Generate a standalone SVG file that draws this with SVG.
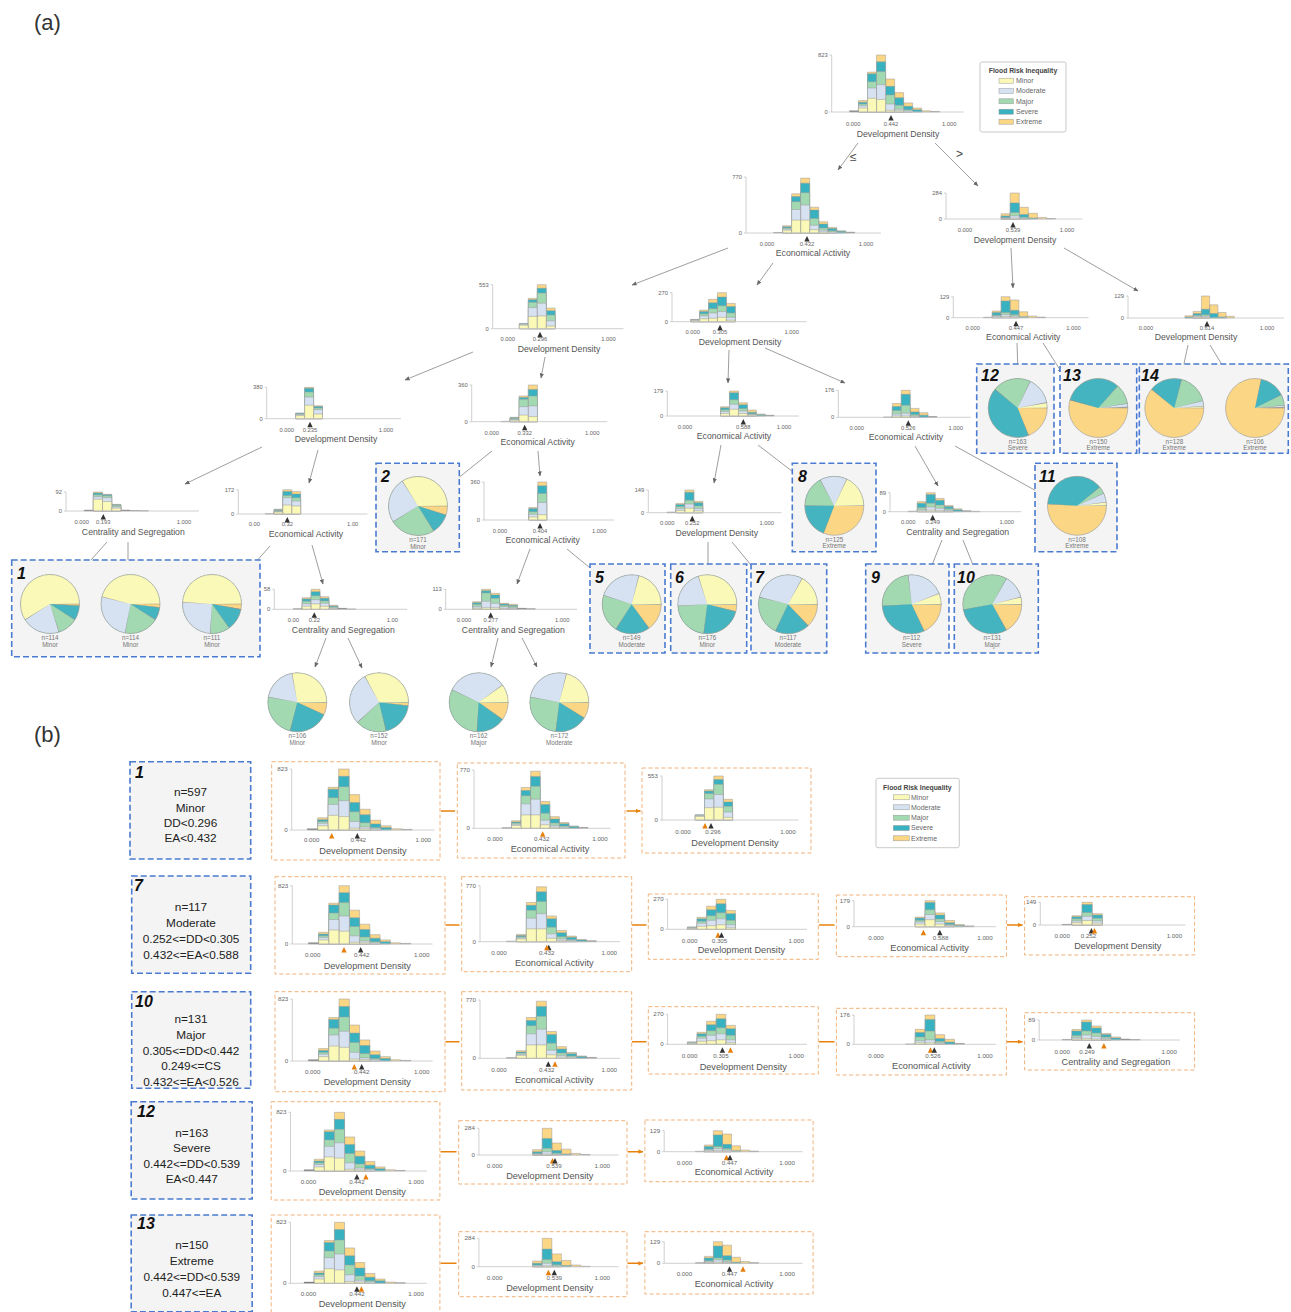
<svg xmlns="http://www.w3.org/2000/svg" width="1291" height="1312" viewBox="0 0 1291 1312">
<style>
text{font-family:"Liberation Sans",Arial,sans-serif;fill:#555}
.tk{font-size:5.8px;text-anchor:middle;fill:#666}
.vl{font-size:5.8px;text-anchor:end;fill:#666}
.tt{font-size:8.7px;text-anchor:middle}
.tk2{font-size:6.2px;text-anchor:middle;fill:#666}
.vl2{font-size:6.2px;text-anchor:end;fill:#666}
.tt2{font-size:9.2px;text-anchor:middle}
.ax{stroke:#c4c4c4;stroke-width:.8;fill:none}
.b{stroke:#9a9a9a;stroke-width:.5px;vector-effect:non-scaling-stroke}
.y{fill:#fbf9b7}.m{fill:#d6e1f1}.g{fill:#a3d9b1}.t{fill:#38b2c1}.o{fill:#fbd685}.k{fill:#5a5a5a}
.s{fill:none;stroke-width:29.5}
.sy{stroke:#fbf9b7}.sm{stroke:#d6e1f1}.sg{stroke:#a3d9b1}.st{stroke:#44b4c1}
.sep{stroke:#8c8c8c}
.rim{fill:none;stroke:#999;stroke-width:.6}
.pl{font-size:6.3px;text-anchor:middle;fill:#777}
.bx{fill:#f4f4f4;stroke:#4a7bd0;stroke-width:1.6;stroke-dasharray:6 3}
.pn{fill:#fff;stroke:#f2b27a;stroke-width:1;stroke-dasharray:4 2.5}
.num{font-weight:bold;font-style:italic;font-size:16px;fill:#111}
.ct{font-size:11.8px;text-anchor:middle;fill:#222}
.mk{fill:#333}.mo{fill:#e67e0c}
.con{stroke:#858585;stroke-width:.8;fill:none;marker-end:url(#ah)}
.oa{stroke:#e8820c;stroke-width:1.4;fill:none;marker-end:url(#oh)}
.lg{fill:#fff;stroke:#bbb;stroke-width:.8}
.lt{font-size:6.8px;font-weight:bold;fill:#444;text-anchor:middle}
.ll{font-size:7px;fill:#666}
.sw{stroke:#999;stroke-width:.5}
</style>
<defs>
<marker id="ah" viewBox="0 0 6 6" refX="5.5" refY="3" markerWidth="5" markerHeight="5" orient="auto" markerUnits="userSpaceOnUse"><path d="M0 .5L6 3L0 5.5z" fill="#666"/></marker>
<marker id="oh" viewBox="0 0 6 6" refX="5.5" refY="3" markerWidth="5" markerHeight="5" orient="auto" markerUnits="userSpaceOnUse"><path d="M0 .5L6 3L0 5.5z" fill="#e8820c"/></marker>
<path id="tri" d="M0 0L2.7 5.5H-2.7Z"/>
<symbol id="pDD823" viewBox="-10 0 120 100" preserveAspectRatio="none" overflow="visible">
<path class="b o" d="M5.4 100V80h9.4V100zM14.8 100V30h9.4V100zM24.2 100V0h9.4V100zM33.6 100V42h9.4V100zM43 100V66h9.4V100zM52.4 100V84h9.4V100zM61.8 100V93h9.4V100zM71.2 100V98h9.4V100z"/>
<path class="b t" d="M5.4 100V83h9.4V100zM14.8 100V33h9.4V100zM24.2 100V12h9.4V100zM33.6 100V55h9.4V100zM43 100V75h9.4V100zM52.4 100V90h9.4V100zM61.8 100V96h9.4V100z"/>
<path class="b g" d="M5.4 100V86h9.4V100zM14.8 100V47h9.4V100zM24.2 100V29h9.4V100zM33.6 100V70h9.4V100zM43 100V88h9.4V100zM52.4 100V96h9.4V100z"/>
<path class="b m" d="M5.4 100V89h9.4V100zM14.8 100V58h9.4V100zM24.2 100V52h9.4V100zM33.6 100V86h9.4V100zM43 100V95h9.4V100zM52.4 100V98h9.4V100z"/>
<path class="b y" d="M5.4 100V93h9.4V100zM14.8 100V76h9.4V100zM24.2 100V78h9.4V100zM33.6 100V97h9.4V100zM43 100V98h9.4V100z"/>
<path class="b k" d="M-4 100V98h9.4V100zM80.6 100V99h9.4V100z"/>
</symbol>
<symbol id="pEA770" viewBox="-10 0 120 100" preserveAspectRatio="none" overflow="visible">
<path class="b o" d="M15.8 100V87h9.1V100zM24.9 100V30h9.1V100zM34 100V2h9.1V100zM43.1 100V54h9.1V100zM52.2 100V80h9.1V100zM61.3 100V90h9.1V100zM70.4 100V96h9.1V100z"/>
<path class="b t" d="M15.8 100V89h9.1V100zM24.9 100V35h9.1V100zM34 100V11h9.1V100zM43.1 100V59h9.1V100zM52.2 100V84h9.1V100zM61.3 100V92h9.1V100zM70.4 100V97h9.1V100z"/>
<path class="b g" d="M15.8 100V91h9.1V100zM24.9 100V44h9.1V100zM34 100V28h9.1V100zM43.1 100V74h9.1V100zM52.2 100V91h9.1V100zM61.3 100V96h9.1V100z"/>
<path class="b m" d="M15.8 100V93h9.1V100zM24.9 100V58h9.1V100zM34 100V50h9.1V100zM43.1 100V86h9.1V100zM52.2 100V95h9.1V100zM61.3 100V98h9.1V100z"/>
<path class="b y" d="M15.8 100V95h9.1V100zM24.9 100V77h9.1V100zM34 100V77h9.1V100zM43.1 100V94h9.1V100zM52.2 100V98h9.1V100z"/>
<path class="b k" d="M6.7 100V99h9.1V100zM79.5 100V98.5h9.1V100z"/>
</symbol>
<symbol id="pDD284" viewBox="-10 0 120 100" preserveAspectRatio="none" overflow="visible">
<path class="b o" d="M35.4 100V80h8.9V100zM44.3 100V0h8.9V100zM53.2 100V55h8.9V100zM62.1 100V78h8.9V100zM71 100V94h8.9V100z"/>
<path class="b t" d="M35.4 100V88h8.9V100zM44.3 100V38h8.9V100zM53.2 100V83h8.9V100zM62.1 100V96h8.9V100z"/>
<path class="b g" d="M35.4 100V94h8.9V100zM44.3 100V75h8.9V100zM53.2 100V93h8.9V100z"/>
<path class="b m" d="M35.4 100V97h8.9V100zM44.3 100V88h8.9V100zM53.2 100V98h8.9V100z"/>
<path class="b y" d="M35.4 100V99h8.9V100zM44.3 100V97h8.9V100z"/>
<path class="b k" d="M79.9 100V98.5h8.9V100z"/>
</symbol>
<symbol id="pDD553" viewBox="-10 0 120 100" preserveAspectRatio="none" overflow="visible">
<path class="b o" d="M20.5 100V31h8.9V100zM29.4 100V0h8.9V100zM38.3 100V53h8.9V100z"/>
<path class="b t" d="M11.6 100V88h8.9V100zM20.5 100V34h8.9V100zM29.4 100V8h8.9V100zM38.3 100V59h8.9V100z"/>
<path class="b g" d="M11.6 100V89h8.9V100zM20.5 100V40h8.9V100zM29.4 100V19h8.9V100zM38.3 100V69h8.9V100z"/>
<path class="b m" d="M11.6 100V90h8.9V100zM20.5 100V52h8.9V100zM29.4 100V42h8.9V100zM38.3 100V82h8.9V100z"/>
<path class="b y" d="M11.6 100V92h8.9V100zM20.5 100V72h8.9V100zM29.4 100V71h8.9V100zM38.3 100V94h8.9V100z"/>
</symbol>
<symbol id="pDD270" viewBox="-10 0 120 100" preserveAspectRatio="none" overflow="visible">
<path class="b o" d="M-2 100V92h9V100zM7 100V60h9V100zM16 100V23h9V100zM25 100V0h9V100zM34 100V37h9V100z"/>
<path class="b t" d="M-2 100V93h9V100zM7 100V65h9V100zM16 100V35h9V100zM25 100V15h9V100zM34 100V48h9V100z"/>
<path class="b g" d="M-2 100V94h9V100zM7 100V73h9V100zM16 100V55h9V100zM25 100V45h9V100zM34 100V70h9V100z"/>
<path class="b m" d="M-2 100V95h9V100zM7 100V80h9V100zM16 100V70h9V100zM25 100V65h9V100zM34 100V85h9V100z"/>
<path class="b y" d="M-2 100V97h9V100zM7 100V90h9V100zM16 100V88h9V100zM25 100V85h9V100zM34 100V95h9V100z"/>
</symbol>
<symbol id="pDD380" viewBox="-10 0 120 100" preserveAspectRatio="none" overflow="visible">
<path class="b o" d="M9 100V82h9V100zM18 100V0h9V100zM27 100V59h9V100z"/>
<path class="b t" d="M9 100V83h9V100zM18 100V3h9V100zM27 100V61h9V100z"/>
<path class="b g" d="M9 100V85h9V100zM18 100V15h9V100zM27 100V66h9V100z"/>
<path class="b m" d="M9 100V87h9V100zM18 100V31h9V100zM27 100V71h9V100z"/>
<path class="b y" d="M9 100V90h9V100zM18 100V57h9V100zM27 100V85h9V100z"/>
</symbol>
<symbol id="pEA360a" viewBox="-10 0 120 100" preserveAspectRatio="none" overflow="visible">
<path class="b o" d="M18.2 100V88h9.1V100zM27.3 100V30h9.1V100zM36.4 100V0h9.1V100z"/>
<path class="b t" d="M18.2 100V89h9.1V100zM27.3 100V34h9.1V100zM36.4 100V12h9.1V100z"/>
<path class="b g" d="M18.2 100V91h9.1V100zM27.3 100V39h9.1V100zM36.4 100V30h9.1V100z"/>
<path class="b m" d="M18.2 100V94h9.1V100zM27.3 100V59h9.1V100zM36.4 100V57h9.1V100z"/>
<path class="b y" d="M18.2 100V96h9.1V100zM27.3 100V82h9.1V100zM36.4 100V86h9.1V100z"/>
<path class="b k" d="M9.1 100V99h9.1V100z"/>
</symbol>
<symbol id="pEA360b" viewBox="-10 0 120 100" preserveAspectRatio="none" overflow="visible">
<path class="b o" d="M29 100V67h9V100zM38 100V0h9V100z"/>
<path class="b t" d="M29 100V70h9V100zM38 100V10h9V100z"/>
<path class="b g" d="M29 100V78h9V100zM38 100V30h9V100z"/>
<path class="b m" d="M29 100V85h9V100zM38 100V54h9V100z"/>
<path class="b y" d="M29 100V92h9V100zM38 100V86h9V100z"/>
</symbol>
<symbol id="pEA179" viewBox="-10 0 120 100" preserveAspectRatio="none" overflow="visible">
<path class="b o" d="M36 100V63h9V100zM45 100V0h9V100zM54 100V47h9V100zM63 100V76h9V100zM72 100V92h9V100z"/>
<path class="b t" d="M36 100V67h9V100zM45 100V7h9V100zM54 100V55h9V100zM63 100V85h9V100zM72 100V95h9V100z"/>
<path class="b g" d="M36 100V75h9V100zM45 100V35h9V100zM54 100V70h9V100zM63 100V91h9V100z"/>
<path class="b m" d="M36 100V82h9V100zM45 100V53h9V100zM54 100V80h9V100zM63 100V94h9V100z"/>
<path class="b y" d="M36 100V90h9V100zM45 100V73h9V100zM54 100V90h9V100zM63 100V97h9V100z"/>
<path class="b k" d="M81 100V97h9V100z"/>
</symbol>
<symbol id="pEA176" viewBox="-10 0 120 100" preserveAspectRatio="none" overflow="visible">
<path class="b o" d="M36 100V49h9V100zM45 100V0h9V100zM54 100V67h9V100zM63 100V83h9V100z"/>
<path class="b t" d="M36 100V60h9V100zM45 100V15h9V100zM54 100V80h9V100zM63 100V92h9V100z"/>
<path class="b g" d="M36 100V75h9V100zM45 100V55h9V100zM54 100V90h9V100z"/>
<path class="b m" d="M36 100V88h9V100zM45 100V85h9V100zM54 100V95h9V100z"/>
<path class="b y" d="M36 100V95h9V100zM45 100V95h9V100zM54 100V98h9V100z"/>
<path class="b k" d="M27 100V99h9V100zM72 100V97h9V100z"/>
</symbol>
<symbol id="pCS92" viewBox="-10 0 120 100" preserveAspectRatio="none" overflow="visible">
<path class="b o" d="M11.4 100V0h9V100zM20.4 100V12h9V100zM29.4 100V65h9V100z"/>
<path class="b t" d="M11.4 100V5h9V100zM20.4 100V14h9V100zM29.4 100V67h9V100z"/>
<path class="b g" d="M11.4 100V15h9V100zM20.4 100V20h9V100zM29.4 100V70h9V100z"/>
<path class="b m" d="M11.4 100V25h9V100zM20.4 100V30h9V100zM29.4 100V78h9V100z"/>
<path class="b y" d="M11.4 100V38h9V100zM20.4 100V50h9V100zM29.4 100V85h9V100z"/>
<path class="b k" d="M2.4 100V95h9V100zM38.4 100V95h9V100zM47.4 100V97h9V100zM56.4 100V98.5h9V100z"/>
</symbol>
<symbol id="pEA172" viewBox="-10 0 120 100" preserveAspectRatio="none" overflow="visible">
<path class="b o" d="M20 100V80h9V100zM29 100V0h9V100zM38 100V7h9V100z"/>
<path class="b t" d="M20 100V82h9V100zM29 100V7h9V100zM38 100V18h9V100z"/>
<path class="b g" d="M20 100V86h9V100zM29 100V24h9V100zM38 100V33h9V100z"/>
<path class="b m" d="M20 100V90h9V100zM29 100V33h9V100zM38 100V47h9V100z"/>
<path class="b y" d="M20 100V92h9V100zM29 100V63h9V100zM38 100V67h9V100z"/>
<path class="b k" d="M11 100V99h9V100z"/>
</symbol>
<symbol id="pCS58" viewBox="-10 0 120 100" preserveAspectRatio="none" overflow="visible">
<path class="b o" d="M9 100V42h9V100zM18 100V0h9V100zM27 100V37h9V100zM36 100V80h9V100z"/>
<path class="b t" d="M9 100V48h9V100zM18 100V12h9V100zM27 100V45h9V100zM36 100V83h9V100z"/>
<path class="b g" d="M9 100V60h9V100zM18 100V32h9V100zM27 100V58h9V100zM36 100V87h9V100z"/>
<path class="b m" d="M9 100V72h9V100zM18 100V52h9V100zM27 100V70h9V100zM36 100V92h9V100z"/>
<path class="b y" d="M9 100V85h9V100zM18 100V73h9V100zM27 100V85h9V100zM36 100V97h9V100z"/>
<path class="b k" d="M0 100V97h9V100zM45 100V95h9V100zM54 100V98h9V100z"/>
</symbol>
<symbol id="pCS113" viewBox="-10 0 120 100" preserveAspectRatio="none" overflow="visible">
<path class="b o" d="M8.8 100V62h9.1V100zM17.9 100V0h9.1V100zM27 100V20h9.1V100zM36.1 100V70h9.1V100zM45.2 100V75h9.1V100z"/>
<path class="b t" d="M8.8 100V67h9.1V100zM17.9 100V7h9.1V100zM27 100V28h9.1V100zM36.1 100V73h9.1V100zM45.2 100V80h9.1V100z"/>
<path class="b g" d="M8.8 100V75h9.1V100zM17.9 100V18h9.1V100zM27 100V45h9.1V100zM36.1 100V80h9.1V100zM45.2 100V85h9.1V100z"/>
<path class="b m" d="M8.8 100V87h9.1V100zM17.9 100V60h9.1V100zM27 100V70h9.1V100zM36.1 100V88h9.1V100zM45.2 100V92h9.1V100z"/>
<path class="b y" d="M8.8 100V95h9.1V100zM17.9 100V92h9.1V100zM27 100V92h9.1V100zM36.1 100V97h9.1V100zM45.2 100V98h9.1V100z"/>
<path class="b k" d="M54.3 100V95h9.1V100zM63.4 100V97h9.1V100z"/>
</symbol>
<symbol id="pDD149" viewBox="-10 0 120 100" preserveAspectRatio="none" overflow="visible">
<path class="b o" d="M8.7 100V59h9V100zM17.7 100V0h9V100zM26.7 100V50h9V100z"/>
<path class="b t" d="M8.7 100V64h9V100zM17.7 100V10h9V100zM26.7 100V56h9V100z"/>
<path class="b g" d="M8.7 100V73h9V100zM17.7 100V45h9V100zM26.7 100V70h9V100z"/>
<path class="b m" d="M8.7 100V82h9V100zM17.7 100V62h9V100zM26.7 100V82h9V100z"/>
<path class="b y" d="M8.7 100V90h9V100zM17.7 100V80h9V100zM26.7 100V92h9V100z"/>
<path class="b k" d="M-0.3 100V97h9V100z"/>
</symbol>
<symbol id="pCS89" viewBox="-10 0 120 100" preserveAspectRatio="none" overflow="visible">
<path class="b o" d="M9.1 100V47h9.1V100zM18.2 100V0h9.1V100zM27.3 100V30h9.1V100zM36.4 100V67h9.1V100zM45.5 100V85h9.1V100z"/>
<path class="b t" d="M9.1 100V55h9.1V100zM18.2 100V10h9.1V100zM27.3 100V40h9.1V100zM36.4 100V73h9.1V100zM45.5 100V90h9.1V100z"/>
<path class="b g" d="M9.1 100V78h9.1V100zM18.2 100V55h9.1V100zM27.3 100V65h9.1V100zM36.4 100V85h9.1V100z"/>
<path class="b m" d="M9.1 100V88h9.1V100zM18.2 100V75h9.1V100zM27.3 100V82h9.1V100zM36.4 100V92h9.1V100z"/>
<path class="b y" d="M9.1 100V95h9.1V100zM18.2 100V92h9.1V100zM27.3 100V95h9.1V100zM36.4 100V98h9.1V100z"/>
<path class="b k" d="M0 100V97h9.1V100zM54.6 100V95h9.1V100zM63.7 100V98h9.1V100z"/>
</symbol>
<symbol id="pEA129" viewBox="-10 0 120 100" preserveAspectRatio="none" overflow="visible">
<path class="b o" d="M19.5 100V68h8.8V100zM28.3 100V0h8.8V100zM37.1 100V16h8.8V100zM45.9 100V72h8.8V100zM54.7 100V92h8.8V100z"/>
<path class="b t" d="M19.5 100V75h8.8V100zM28.3 100V20h8.8V100zM37.1 100V65h8.8V100zM45.9 100V95h8.8V100z"/>
<path class="b g" d="M19.5 100V88h8.8V100zM28.3 100V75h8.8V100zM37.1 100V85h8.8V100z"/>
<path class="b m" d="M19.5 100V92h8.8V100zM28.3 100V85h8.8V100zM37.1 100V92h8.8V100z"/>
<path class="b y" d="M19.5 100V97h8.8V100zM28.3 100V95h8.8V100zM37.1 100V97h8.8V100z"/>
<path class="b k" d="M10.7 100V98h8.8V100zM63.5 100V97h8.8V100z"/>
</symbol>
<symbol id="pDD129" viewBox="-10 0 120 100" preserveAspectRatio="none" overflow="visible">
<path class="b o" d="M32.2 100V90h6.8V100zM39 100V70h6.8V100zM45.8 100V0h6.8V100zM52.6 100V40h6.8V100zM59.4 100V75h6.8V100zM66.2 100V92h6.8V100z"/>
<path class="b t" d="M32.2 100V95h6.8V100zM39 100V80h6.8V100zM45.8 100V60h6.8V100zM52.6 100V80h6.8V100zM59.4 100V95h6.8V100z"/>
<path class="b g" d="M39 100V88h6.8V100zM45.8 100V85h6.8V100z"/>
<path class="b m" d="M39 100V92h6.8V100zM45.8 100V92h6.8V100z"/>
<path class="b y" d="M39 100V97h6.8V100zM45.8 100V97h6.8V100z"/>
</symbol>
</defs>

<rect width="1291" height="1312" fill="#fff"/>
<text x="34" y="30" style="font-size:22px;fill:#333">(a)</text>
<text x="34" y="742" style="font-size:22px;fill:#333">(b)</text>

<g id="legend-a">
<rect class="lg" x="980" y="62" width="86" height="70" rx="2"/>
<text class="lt" x="1023" y="73.3">Flood Risk Inequality</text>
<rect class="sw y" x="999" y="78.2" width="14.3" height="5"/><text class="ll" x="1016" y="83.1">Minor</text>
<rect class="sw m" x="999" y="88.5" width="14.3" height="5"/><text class="ll" x="1016" y="93.4">Moderate</text>
<rect class="sw g" x="999" y="98.8" width="14.3" height="5"/><text class="ll" x="1016" y="103.7">Major</text>
<rect class="sw t" x="999" y="109.2" width="14.3" height="5"/><text class="ll" x="1016" y="114.1">Severe</text>
<rect class="sw o" x="999" y="119.2" width="14.3" height="5"/><text class="ll" x="1016" y="124.1">Extreme</text>
</g>

<g id="connectors">
<path class="con" d="M858 143L838 170"/>
<path class="con" d="M935 143L978 186"/>
<path class="con" d="M728 248L632 285"/>
<path class="con" d="M773 263L757 285"/>
<path class="con" d="M1011 248L1013 288"/>
<path class="con" d="M1064 248L1138 291"/>
<path class="con" d="M473 352L405 380"/>
<path class="con" d="M545 357L541 378"/>
<path class="con" d="M729 350L728 383"/>
<path class="con" d="M765 348L845 383"/>
<path class="con" d="M262 447L185 484"/>
<path class="con" d="M318 450L309 483"/>
<path class="con" d="M492 451L452 483"/>
<path class="con" d="M538 451L540 476"/>
<path class="con" d="M107 542L83 569"/>
<path class="con" d="M128 542L128 569"/>
<path class="con" d="M270 546L247 572"/>
<path class="con" d="M312 545L323 584"/>
<path class="con" d="M530 549L517 584"/>
<path class="con" d="M567 549L595 572"/>
<path class="con" d="M326 638L315 667"/>
<path class="con" d="M348 638L362 668"/>
<path class="con" d="M498 638L491 667"/>
<path class="con" d="M522 638L537 667"/>
<path class="con" d="M721 445L714 483"/>
<path class="con" d="M758 445L797 475"/>
<path class="con" d="M708 542L708 570"/>
<path class="con" d="M732 542L755 570"/>
<path class="con" d="M915 446L938 486"/>
<path class="con" d="M955 446L1040 493"/>
<path class="con" d="M942 540L930 570"/>
<path class="con" d="M963 540L975 570"/>
<path class="con" d="M1017 343L1018 373"/>
<path class="con" d="M1043 343L1062 373"/>
<path class="con" d="M1188 345L1182 373"/>
<path class="con" d="M1210 345L1227 373"/>
<text x="850" y="161" style="font-size:12px;fill:#444">≤</text>
<text x="956" y="158" style="font-size:12px;fill:#444">&gt;</text>
<path class="oa" d="M441 811H455M626.5 811H640.5"/>
<path class="oa" d="M445.5 925H459.5M632 925H646.5M819 925H834.5M1007 925H1022.5"/>
<path class="oa" d="M445.5 1041.7H459.5M632 1041.7H646.5M819 1041.7H834.5M1007 1041.7H1022.5"/>
<path class="oa" d="M440.5 1151.7H456.5M627.5 1151.7H643"/>
<path class="oa" d="M440.5 1263.3H456.5M627.5 1263.3H643"/>
</g>

<g id="n0">
<use href="#pDD823" x="843.7" y="55" width="115.2" height="57"/>
<path class="ax" d="M831.7 55V112H963.7M829.7 55h2M829.7 112h2"/>
<text class="vl" x="827.7" y="57">823</text><text class="vl" x="827.7" y="114">0</text>
<text class="tk" y="126"><tspan x="853.3">0.000</tspan><tspan x="891">0.442</tspan><tspan x="949.3">1.000</tspan></text>
<use href="#tri" class="mk" x="891" y="115"/>
<text class="tt" x="898" y="137">Development Density</text>
</g>
<g id="n1">
<use href="#pEA770" x="757.1" y="177" width="118.8" height="56"/>
<path class="ax" d="M746 177V233H880.9M744 177h2M744 233h2"/>
<text class="vl" x="742" y="179">770</text><text class="vl" x="742" y="235">0</text>
<text class="tk" y="245.5"><tspan x="767">0.000</tspan><tspan x="807">0.432</tspan><tspan x="866">1.000</tspan></text>
<use href="#tri" class="mk" x="807" y="236"/>
<text class="tt" x="813" y="256">Economical Activity</text>
</g>
<g id="n2">
<use href="#pDD284" x="954.8" y="193" width="122.4" height="26"/>
<path class="ax" d="M946 193V219H1082.3M944 193h2M944 219h2"/>
<text class="vl" x="942" y="195">284</text><text class="vl" x="942" y="221">0</text>
<text class="tk" y="232"><tspan x="965">0.000</tspan><tspan x="1013">0.539</tspan><tspan x="1067">1.000</tspan></text>
<use href="#tri" class="mk" x="1013" y="222"/>
<text class="tt" x="1015" y="243">Development Density</text>
</g>
<g id="n3">
<use href="#pDD553" x="497.6" y="284.7" width="120.8" height="44"/>
<path class="ax" d="M492.7 284.7V328.7H623.5M490.7 284.7h2M490.7 328.7h2"/>
<text class="vl" x="488.7" y="286.7">553</text><text class="vl" x="488.7" y="330.7">0</text>
<text class="tk" y="341"><tspan x="507.7">0.000</tspan><tspan x="540">0.296</tspan><tspan x="608.4">1.000</tspan></text>
<use href="#tri" class="mk" x="540" y="331.7"/>
<text class="tt" x="559" y="352">Development Density</text>
</g>
<g id="n4">
<use href="#pDD270" x="682.8" y="292.7" width="118.8" height="29"/>
<path class="ax" d="M672 292.7V321.7H806.6M670 292.7h2M670 321.7h2"/>
<text class="vl" x="668" y="294.7">270</text><text class="vl" x="668" y="323.7">0</text>
<text class="tk" y="334"><tspan x="692.7">0.000</tspan><tspan x="720">0.305</tspan><tspan x="791.7">1.000</tspan></text>
<use href="#tri" class="mk" x="720" y="324.7"/>
<text class="tt" x="740" y="344.7">Development Density</text>
</g>
<g id="n5">
<use href="#pEA129" x="962.6" y="296.7" width="120.8" height="21"/>
<path class="ax" d="M953.3 296.7V317.7H1088.5M951.3 296.7h2M951.3 317.7h2"/>
<text class="vl" x="949.3" y="298.7">129</text><text class="vl" x="949.3" y="319.7">0</text>
<text class="tk" y="330.3"><tspan x="972.7">0.000</tspan><tspan x="1016">0.447</tspan><tspan x="1073.4">1.000</tspan></text>
<use href="#tri" class="mk" x="1016" y="320.7"/>
<text class="tt" x="1023.3" y="339.7">Economical Activity</text>
</g>
<g id="n6">
<use href="#pDD129" x="1133.9" y="296" width="145.2" height="22"/>
<path class="ax" d="M1128 296V318H1284M1126 296h2M1126 318h2"/>
<text class="vl" x="1124" y="298">129</text><text class="vl" x="1124" y="320">0</text>
<text class="tk" y="329.5"><tspan x="1146">0.000</tspan><tspan x="1207">0.614</tspan><tspan x="1267">1.000</tspan></text>
<use href="#tri" class="mk" x="1207" y="321"/>
<text class="tt" x="1196" y="340">Development Density</text>
</g>
<g id="n7">
<use href="#pDD380" x="276.8" y="387.3" width="119.2" height="31.4"/>
<path class="ax" d="M266.7 387.3V418.7H400.9M264.7 387.3h2M264.7 418.7h2"/>
<text class="vl" x="262.7" y="389.3">380</text><text class="vl" x="262.7" y="420.7">0</text>
<text class="tk" y="431.7"><tspan x="286.7">0.000</tspan><tspan x="310">0.235</tspan><tspan x="386">1.000</tspan></text>
<use href="#tri" class="mk" x="310" y="421.7"/>
<text class="tt" x="336" y="442">Development Density</text>
</g>
<g id="n8">
<use href="#pEA360a" x="481.6" y="385" width="120.7" height="36.7"/>
<path class="ax" d="M471.7 385V421.7H607.4M469.7 385h2M469.7 421.7h2"/>
<text class="vl" x="467.7" y="387">360</text><text class="vl" x="467.7" y="423.7">0</text>
<text class="tk" y="435"><tspan x="491.7">0.000</tspan><tspan x="524.7">0.332</tspan><tspan x="592.3">1.000</tspan></text>
<use href="#tri" class="mk" x="524.7" y="424.7"/>
<text class="tt" x="537.7" y="445">Economical Activity</text>
</g>
<g id="n9">
<use href="#pEA179" x="675.1" y="391" width="118.8" height="25"/>
<path class="ax" d="M667.3 391V416H798.9M665.3 391h2M665.3 416h2"/>
<text class="vl" x="663.3" y="393">179</text><text class="vl" x="663.3" y="418">0</text>
<text class="tk" y="428.7"><tspan x="685">0.000</tspan><tspan x="743.3">0.588</tspan><tspan x="784">1.000</tspan></text>
<use href="#tri" class="mk" x="743.3" y="419"/>
<text class="tt" x="734" y="439">Economical Activity</text>
</g>
<g id="n10">
<use href="#pEA176" x="846.8" y="390.3" width="118.8" height="27"/>
<path class="ax" d="M838.3 390.3V417.3H970.6M836.3 390.3h2M836.3 417.3h2"/>
<text class="vl" x="834.3" y="392.3">176</text><text class="vl" x="834.3" y="419.3">0</text>
<text class="tk" y="429.7"><tspan x="856.7">0.000</tspan><tspan x="908.3">0.526</tspan><tspan x="955.7">1.000</tspan></text>
<use href="#tri" class="mk" x="908.3" y="420.3"/>
<text class="tt" x="906" y="440.3">Economical Activity</text>
</g>
<g id="n11">
<use href="#pCS92" x="71.5" y="492" width="122.4" height="19"/>
<path class="ax" d="M66 492V511H199M64 492h2M64 511h2"/>
<text class="vl" x="62" y="494">92</text><text class="vl" x="62" y="513">0</text>
<text class="tk" y="523.7"><tspan x="81.7">0.000</tspan><tspan x="103.3">0.193</tspan><tspan x="184">1.000</tspan></text>
<use href="#tri" class="mk" x="103.3" y="514"/>
<text class="tt" x="133.3" y="534.7">Centrality and Segregation</text>
</g>
<g id="n12">
<use href="#pEA172" x="244.5" y="489.7" width="118.1" height="24.3"/>
<path class="ax" d="M238.3 489.7V514H367.5M236.3 489.7h2M236.3 514h2"/>
<text class="vl" x="234.3" y="491.7">172</text><text class="vl" x="234.3" y="516">0</text>
<text class="tk" y="525.7"><tspan x="254.3">0.00</tspan><tspan x="287.3">0.32</tspan><tspan x="352.7">1.00</tspan></text>
<use href="#tri" class="mk" x="287.3" y="517"/>
<text class="tt" x="306" y="537">Economical Activity</text>
</g>
<g id="n13">
<use href="#pEA360b" x="490.1" y="482" width="119.2" height="38"/>
<path class="ax" d="M484 482V520H614.2M482 482h2M482 520h2"/>
<text class="vl" x="480" y="484">360</text><text class="vl" x="480" y="522">0</text>
<text class="tk" y="532.7"><tspan x="500">0.000</tspan><tspan x="540">0.404</tspan><tspan x="599.3">1.000</tspan></text>
<use href="#tri" class="mk" x="540" y="523"/>
<text class="tt" x="542.7" y="543">Economical Activity</text>
</g>
<g id="n14">
<use href="#pDD149" x="657.4" y="490" width="119.2" height="22.7"/>
<path class="ax" d="M648.3 490V512.7H781.5M646.3 490h2M646.3 512.7h2"/>
<text class="vl" x="644.3" y="492">149</text><text class="vl" x="644.3" y="514.7">0</text>
<text class="tk" y="525.3"><tspan x="667.3">0.000</tspan><tspan x="692.3">0.252</tspan><tspan x="766.7">1.000</tspan></text>
<use href="#tri" class="mk" x="692.3" y="515.7"/>
<text class="tt" x="716.7" y="535.7">Development Density</text>
</g>
<g id="n15">
<use href="#pCS89" x="898.5" y="492.7" width="118" height="19"/>
<path class="ax" d="M890 492.7V511.7H1021.3M888 492.7h2M888 511.7h2"/>
<text class="vl" x="886" y="494.7">89</text><text class="vl" x="886" y="513.7">0</text>
<text class="tk" y="524.3"><tspan x="908.3">0.000</tspan><tspan x="932.7">0.249</tspan><tspan x="1006.7">1.000</tspan></text>
<use href="#tri" class="mk" x="932.7" y="514.7"/>
<text class="tt" x="957.7" y="534.7">Centrality and Segregation</text>
</g>
<g id="n16">
<use href="#pCS58" x="283.4" y="589.3" width="118.8" height="20"/>
<path class="ax" d="M274.3 589.3V609.3H407.2M272.3 589.3h2M272.3 609.3h2"/>
<text class="vl" x="270.3" y="591.3">58</text><text class="vl" x="270.3" y="611.3">0</text>
<text class="tk" y="622"><tspan x="293.3">0.00</tspan><tspan x="314.3">0.22</tspan><tspan x="392.3">1.00</tspan></text>
<use href="#tri" class="mk" x="314.3" y="612.3"/>
<text class="tt" x="343.3" y="633">Centrality and Segregation</text>
</g>
<g id="n17">
<use href="#pCS113" x="454.2" y="589.3" width="118" height="20"/>
<path class="ax" d="M445.7 589.3V609.3H577M443.7 589.3h2M443.7 609.3h2"/>
<text class="vl" x="441.7" y="591.3">113</text><text class="vl" x="441.7" y="611.3">0</text>
<text class="tk" y="622"><tspan x="464">0.000</tspan><tspan x="490.7">0.277</tspan><tspan x="562.3">1.000</tspan></text>
<use href="#tri" class="mk" x="490.7" y="612.3"/>
<text class="tt" x="513.3" y="633">Centrality and Segregation</text>
</g>

<g id="box1">
<rect class="bx" x="11.7" y="560" width="248.3" height="96.7"/>
<text class="num" x="17" y="579">1</text>
<g transform="translate(50 604) scale(1 -1)"><circle r="29.5" class="o"/><circle r="14.75" class="s st" pathLength="100" stroke-dasharray="99 100"/><circle r="14.75" class="s sg" pathLength="100" stroke-dasharray="91 100"/><circle r="14.75" class="s sm" pathLength="100" stroke-dasharray="80 100"/><circle r="14.75" class="s sy" pathLength="100" stroke-dasharray="59 100"/><circle r="14.75" class="s sep" pathLength="100" stroke-dasharray="0.3 58.7 0.3 20.7 0.3 10.7 0.3 7.7 0.3 0.7" stroke-dashoffset="0.15"/><circle r="29.5" class="rim"/></g>
<text class="pl" x="50" y="640">n=114</text><text class="pl" x="50" y="646.5">Minor</text>
<g transform="translate(130.5 604) scale(1 -1)"><circle r="29.5" class="o"/><circle r="14.75" class="s st" pathLength="100" stroke-dasharray="98 100"/><circle r="14.75" class="s sg" pathLength="100" stroke-dasharray="91 100"/><circle r="14.75" class="s sm" pathLength="100" stroke-dasharray="72 100"/><circle r="14.75" class="s sy" pathLength="100" stroke-dasharray="46 100"/><circle r="14.75" class="s sep" pathLength="100" stroke-dasharray="0.3 45.7 0.3 25.7 0.3 18.7 0.3 6.7 0.3 1.7" stroke-dashoffset="0.15"/><circle r="29.5" class="rim"/></g>
<text class="pl" x="130.5" y="640">n=114</text><text class="pl" x="130.5" y="646.5">Minor</text>
<g transform="translate(212 604) scale(1 -1)"><circle r="29.5" class="o"/><circle r="14.75" class="s st" pathLength="100" stroke-dasharray="97 100"/><circle r="14.75" class="s sg" pathLength="100" stroke-dasharray="85 100"/><circle r="14.75" class="s sm" pathLength="100" stroke-dasharray="74 100"/><circle r="14.75" class="s sy" pathLength="100" stroke-dasharray="49 100"/><circle r="14.75" class="s sep" pathLength="100" stroke-dasharray="0.3 48.7 0.3 24.7 0.3 10.7 0.3 11.7 0.3 2.7" stroke-dashoffset="0.15"/><circle r="29.5" class="rim"/></g>
<text class="pl" x="212" y="640">n=111</text><text class="pl" x="212" y="646.5">Minor</text>
</g>

<g id="box2">
<rect class="bx" x="376" y="463.3" width="83.3" height="88.4"/>
<text class="num" x="381" y="481.5">2</text>
<g transform="translate(418 506) scale(1 -1)"><circle r="29.5" class="o"/><circle r="14.75" class="s st" pathLength="100" stroke-dasharray="95 100"/><circle r="14.75" class="s sg" pathLength="100" stroke-dasharray="84 100"/><circle r="14.75" class="s sm" pathLength="100" stroke-dasharray="59 100"/><circle r="14.75" class="s sy" pathLength="100" stroke-dasharray="34 100"/><circle r="14.75" class="s sep" pathLength="100" stroke-dasharray="0.3 33.7 0.3 24.7 0.3 24.7 0.3 10.7 0.3 4.7" stroke-dashoffset="0.15"/><circle r="29.5" class="rim"/></g>
<text class="pl" x="418" y="542">n=171</text><text class="pl" x="418" y="548.5">Minor</text>
</g>

<g id="box5">
<rect class="bx" x="590" y="564" width="75" height="89"/>
<text class="num" x="595" y="582.5">5</text>
<g transform="translate(631.7 604.3) scale(1 -1)"><circle r="29.5" class="o"/><circle r="14.75" class="s st" pathLength="100" stroke-dasharray="85 100"/><circle r="14.75" class="s sg" pathLength="100" stroke-dasharray="66 100"/><circle r="14.75" class="s sm" pathLength="100" stroke-dasharray="45 100"/><circle r="14.75" class="s sy" pathLength="100" stroke-dasharray="21 100"/><circle r="14.75" class="s sep" pathLength="100" stroke-dasharray="0.3 20.7 0.3 23.7 0.3 20.7 0.3 18.7 0.3 14.7" stroke-dashoffset="0.15"/><circle r="29.5" class="rim"/></g>
<text class="pl" x="631.7" y="640.3">n=149</text><text class="pl" x="631.7" y="646.8">Moderate</text>
</g>
<g id="box6">
<rect class="bx" x="670.7" y="564" width="76" height="89"/>
<text class="num" x="675" y="582.5">6</text>
<g transform="translate(707.3 604.3) scale(1 -1)"><circle r="29.5" class="o"/><circle r="14.75" class="s st" pathLength="100" stroke-dasharray="96 100"/><circle r="14.75" class="s sg" pathLength="100" stroke-dasharray="73 100"/><circle r="14.75" class="s sm" pathLength="100" stroke-dasharray="51 100"/><circle r="14.75" class="s sy" pathLength="100" stroke-dasharray="30 100"/><circle r="14.75" class="s sep" pathLength="100" stroke-dasharray="0.3 29.7 0.3 20.7 0.3 21.7 0.3 22.7 0.3 3.7" stroke-dashoffset="0.15"/><circle r="29.5" class="rim"/></g>
<text class="pl" x="707.3" y="640.3">n=176</text><text class="pl" x="707.3" y="646.8">Minor</text>
</g>
<g id="box7">
<rect class="bx" x="751" y="564" width="75.7" height="89"/>
<text class="num" x="755" y="582.5">7</text>
<g transform="translate(788 604.3) scale(1 -1)"><circle r="29.5" class="o"/><circle r="14.75" class="s st" pathLength="100" stroke-dasharray="87 100"/><circle r="14.75" class="s sg" pathLength="100" stroke-dasharray="68 100"/><circle r="14.75" class="s sm" pathLength="100" stroke-dasharray="46 100"/><circle r="14.75" class="s sy" pathLength="100" stroke-dasharray="17 100"/><circle r="14.75" class="s sep" pathLength="100" stroke-dasharray="0.3 16.7 0.3 28.7 0.3 21.7 0.3 18.7 0.3 12.7" stroke-dashoffset="0.15"/><circle r="29.5" class="rim"/></g>
<text class="pl" x="788" y="640.3">n=117</text><text class="pl" x="788" y="646.8">Moderate</text>
</g>
<g id="box8">
<rect class="bx" x="792.3" y="463.3" width="83.7" height="88.4"/>
<text class="num" x="798" y="481.5">8</text>
<g transform="translate(834.3 505.8) scale(1 -1)"><circle r="29.5" class="o"/><circle r="14.75" class="s st" pathLength="100" stroke-dasharray="69 100"/><circle r="14.75" class="s sg" pathLength="100" stroke-dasharray="50 100"/><circle r="14.75" class="s sm" pathLength="100" stroke-dasharray="33 100"/><circle r="14.75" class="s sy" pathLength="100" stroke-dasharray="18 100"/><circle r="14.75" class="s sep" pathLength="100" stroke-dasharray="0.3 17.7 0.3 14.7 0.3 16.7 0.3 18.7 0.3 30.7" stroke-dashoffset="0.15"/><circle r="29.5" class="rim"/></g>
<text class="pl" x="834.3" y="541.8">n=125</text><text class="pl" x="834.3" y="548.3">Extreme</text>
</g>
<g id="box9">
<rect class="bx" x="865.7" y="564" width="83.3" height="89"/>
<text class="num" x="871" y="582.5">9</text>
<g transform="translate(911.7 604.3) scale(1 -1)"><circle r="29.5" class="o"/><circle r="14.75" class="s st" pathLength="100" stroke-dasharray="82 100"/><circle r="14.75" class="s sg" pathLength="100" stroke-dasharray="51 100"/><circle r="14.75" class="s sm" pathLength="100" stroke-dasharray="27 100"/><circle r="14.75" class="s sy" pathLength="100" stroke-dasharray="6 100"/><circle r="14.75" class="s sep" pathLength="100" stroke-dasharray="0.3 5.7 0.3 20.7 0.3 23.7 0.3 30.7 0.3 17.7" stroke-dashoffset="0.15"/><circle r="29.5" class="rim"/></g>
<text class="pl" x="911.7" y="640.3">n=112</text><text class="pl" x="911.7" y="646.8">Severe</text>
</g>
<g id="box10">
<rect class="bx" x="954.3" y="564" width="84" height="89"/>
<text class="num" x="957" y="582.5">10</text>
<g transform="translate(992.3 604.3) scale(1 -1)"><circle r="29.5" class="o"/><circle r="14.75" class="s st" pathLength="100" stroke-dasharray="83 100"/><circle r="14.75" class="s sg" pathLength="100" stroke-dasharray="53 100"/><circle r="14.75" class="s sm" pathLength="100" stroke-dasharray="17 100"/><circle r="14.75" class="s sy" pathLength="100" stroke-dasharray="4 100"/><circle r="14.75" class="s sep" pathLength="100" stroke-dasharray="0.3 3.7 0.3 12.7 0.3 35.7 0.3 29.7 0.3 16.7" stroke-dashoffset="0.15"/><circle r="29.5" class="rim"/></g>
<text class="pl" x="992.3" y="640.3">n=131</text><text class="pl" x="992.3" y="646.8">Major</text>
</g>
<g id="box11">
<rect class="bx" x="1035" y="463.3" width="82" height="88.4"/>
<text class="num" x="1039" y="481.5">11</text>
<g transform="translate(1077 505.8) scale(1 -1)"><circle r="29.5" class="o"/><circle r="14.75" class="s st" pathLength="100" stroke-dasharray="49 100"/><circle r="14.75" class="s sg" pathLength="100" stroke-dasharray="11 100"/><circle r="14.75" class="s sm" pathLength="100" stroke-dasharray="7 100"/><circle r="14.75" class="s sy" pathLength="100" stroke-dasharray="2 100"/><circle r="14.75" class="s sep" pathLength="100" stroke-dasharray="0.3 1.7 0.3 4.7 0.3 3.7 0.3 37.7 0.3 50.7" stroke-dashoffset="0.15"/><circle r="29.5" class="rim"/></g>
<text class="pl" x="1077" y="541.8">n=108</text><text class="pl" x="1077" y="548.3">Extreme</text>
</g>
<g id="box12">
<rect class="bx" x="976.7" y="364" width="77.3" height="89.3"/>
<text class="num" x="981" y="381">12</text>
<g transform="translate(1017.7 408) scale(1 -1)"><circle r="29.5" class="o"/><circle r="14.75" class="s st" pathLength="100" stroke-dasharray="81 100"/><circle r="14.75" class="s sg" pathLength="100" stroke-dasharray="39 100"/><circle r="14.75" class="s sm" pathLength="100" stroke-dasharray="18 100"/><circle r="14.75" class="s sy" pathLength="100" stroke-dasharray="3 100"/><circle r="14.75" class="s sep" pathLength="100" stroke-dasharray="0.3 2.7 0.3 14.7 0.3 20.7 0.3 41.7 0.3 18.7" stroke-dashoffset="0.15"/><circle r="29.5" class="rim"/></g>
<text class="pl" x="1017.7" y="443.5">n=163</text><text class="pl" x="1017.7" y="450">Severe</text>
</g>
<g id="box13">
<rect class="bx" x="1060" y="364" width="76.7" height="89.3"/>
<text class="num" x="1063" y="381">13</text>
<g transform="translate(1098.3 408) scale(1 -1)"><circle r="29.5" class="o"/><circle r="14.75" class="s st" pathLength="100" stroke-dasharray="45.5 100"/><circle r="14.75" class="s sg" pathLength="100" stroke-dasharray="13.5 100"/><circle r="14.75" class="s sm" pathLength="100" stroke-dasharray="2.5 100"/><circle r="14.75" class="s sy" pathLength="100" stroke-dasharray="0.5 100"/><circle r="14.75" class="s sep" pathLength="100" stroke-dasharray="0.3 0.2 0.3 1.7 0.3 10.7 0.3 31.7 0.3 54.2" stroke-dashoffset="0.15"/><circle r="29.5" class="rim"/></g>
<text class="pl" x="1098.3" y="443.5">n=150</text><text class="pl" x="1098.3" y="450">Extreme</text>
</g>
<g id="box14">
<rect class="bx" x="1139.3" y="364" width="149" height="89.3"/>
<text class="num" x="1141" y="381">14</text>
<g transform="translate(1174.3 408) scale(1 -1)"><circle r="29.5" class="o"/><circle r="14.75" class="s st" pathLength="100" stroke-dasharray="39 100"/><circle r="14.75" class="s sg" pathLength="100" stroke-dasharray="21 100"/><circle r="14.75" class="s sm" pathLength="100" stroke-dasharray="4 100"/><circle r="14.75" class="s sy" pathLength="100" stroke-dasharray="1 100"/><circle r="14.75" class="s sep" pathLength="100" stroke-dasharray="0.3 0.7 0.3 2.7 0.3 16.7 0.3 17.7 0.3 60.7" stroke-dashoffset="0.15"/><circle r="29.5" class="rim"/></g>
<text class="pl" x="1174.3" y="443.5">n=128</text><text class="pl" x="1174.3" y="450">Extreme</text>
<g transform="translate(1255 408) scale(1 -1)"><circle r="29.5" class="o"/><circle r="14.75" class="s st" pathLength="100" stroke-dasharray="21.5 100"/><circle r="14.75" class="s sg" pathLength="100" stroke-dasharray="7.5 100"/><circle r="14.75" class="s sm" pathLength="100" stroke-dasharray="1.5 100"/><circle r="14.75" class="s sy" pathLength="100" stroke-dasharray="0.5 100"/><circle r="14.75" class="s sep" pathLength="100" stroke-dasharray="0.3 0.2 0.3 0.7 0.3 5.7 0.3 13.7 0.3 78.2" stroke-dashoffset="0.15"/><circle r="29.5" class="rim"/></g>
<text class="pl" x="1255" y="443.5">n=106</text><text class="pl" x="1255" y="450">Extreme</text>
</g>

<g id="leaf106">
<g transform="translate(297.3 702.3) scale(1 -1)"><circle r="29.5" class="o"/><circle r="14.75" class="s st" pathLength="100" stroke-dasharray="93 100"/><circle r="14.75" class="s sg" pathLength="100" stroke-dasharray="71 100"/><circle r="14.75" class="s sm" pathLength="100" stroke-dasharray="47 100"/><circle r="14.75" class="s sy" pathLength="100" stroke-dasharray="28 100"/><circle r="14.75" class="s sep" pathLength="100" stroke-dasharray="0.3 27.7 0.3 18.7 0.3 23.7 0.3 21.7 0.3 6.7" stroke-dashoffset="0.15"/><circle r="29.5" class="rim"/></g>
<text class="pl" x="297.3" y="738.3">n=106</text><text class="pl" x="297.3" y="744.8">Minor</text>
</g>
<g id="leaf152">
<g transform="translate(379 702.3) scale(1 -1)"><circle r="29.5" class="o"/><circle r="14.75" class="s st" pathLength="100" stroke-dasharray="98 100"/><circle r="14.75" class="s sg" pathLength="100" stroke-dasharray="79 100"/><circle r="14.75" class="s sm" pathLength="100" stroke-dasharray="62 100"/><circle r="14.75" class="s sy" pathLength="100" stroke-dasharray="33 100"/><circle r="14.75" class="s sep" pathLength="100" stroke-dasharray="0.3 32.7 0.3 28.7 0.3 16.7 0.3 18.7 0.3 1.7" stroke-dashoffset="0.15"/><circle r="29.5" class="rim"/></g>
<text class="pl" x="379" y="738.3">n=152</text><text class="pl" x="379" y="744.8">Minor</text>
</g>
<g id="leaf162">
<g transform="translate(478.7 702.3) scale(1 -1)"><circle r="29.5" class="o"/><circle r="14.75" class="s st" pathLength="100" stroke-dasharray="90 100"/><circle r="14.75" class="s sg" pathLength="100" stroke-dasharray="74 100"/><circle r="14.75" class="s sm" pathLength="100" stroke-dasharray="43 100"/><circle r="14.75" class="s sy" pathLength="100" stroke-dasharray="10 100"/><circle r="14.75" class="s sep" pathLength="100" stroke-dasharray="0.3 9.7 0.3 32.7 0.3 30.7 0.3 15.7 0.3 9.7" stroke-dashoffset="0.15"/><circle r="29.5" class="rim"/></g>
<text class="pl" x="478.7" y="738.3">n=162</text><text class="pl" x="478.7" y="744.8">Major</text>
</g>
<g id="leaf172">
<g transform="translate(559.3 702.3) scale(1 -1)"><circle r="29.5" class="o"/><circle r="14.75" class="s st" pathLength="100" stroke-dasharray="91 100"/><circle r="14.75" class="s sg" pathLength="100" stroke-dasharray="73 100"/><circle r="14.75" class="s sm" pathLength="100" stroke-dasharray="47 100"/><circle r="14.75" class="s sy" pathLength="100" stroke-dasharray="21 100"/><circle r="14.75" class="s sep" pathLength="100" stroke-dasharray="0.3 20.7 0.3 25.7 0.3 25.7 0.3 17.7 0.3 8.7" stroke-dashoffset="0.15"/><circle r="29.5" class="rim"/></g>
<text class="pl" x="559.3" y="738.3">n=172</text><text class="pl" x="559.3" y="744.8">Moderate</text>
</g>

<g id="card1">
<rect class="bx" x="130" y="761.7" width="120.7" height="97.3"/>
<text class="num" x="135" y="777.5">1</text>
<text class="ct" x="190.5" y="796">n=597</text><text class="ct" x="190.5" y="811.5">Minor</text><text class="ct" x="190.5" y="826.5">DD&lt;0.296</text><text class="ct" x="190.5" y="841.5">EA&lt;0.432</text>
</g>
<g id="card7">
<rect class="bx" x="131.7" y="876" width="119" height="97.3"/>
<text class="num" x="134" y="891">7</text>
<text class="ct" x="191" y="911">n=117</text><text class="ct" x="191" y="927">Moderate</text><text class="ct" x="191" y="943">0.252&lt;=DD&lt;0.305</text><text class="ct" x="191" y="958.5">0.432&lt;=EA&lt;0.588</text>
</g>
<g id="card10">
<rect class="bx" x="131.7" y="991.7" width="119" height="96.6"/>
<text class="num" x="135" y="1007">10</text>
<text class="ct" x="191" y="1023">n=131</text><text class="ct" x="191" y="1038.5">Major</text><text class="ct" x="191" y="1055">0.305&lt;=DD&lt;0.442</text><text class="ct" x="191" y="1070">0.249&lt;=CS</text><text class="ct" x="191" y="1086">0.432&lt;=EA&lt;0.526</text>
</g>
<g id="card12">
<rect class="bx" x="131.2" y="1101.7" width="121" height="97.3"/>
<text class="num" x="137" y="1117">12</text>
<text class="ct" x="191.8" y="1136.5">n=163</text><text class="ct" x="191.8" y="1152">Severe</text><text class="ct" x="191.8" y="1167.5">0.442&lt;=DD&lt;0.539</text><text class="ct" x="191.8" y="1183">EA&lt;0.447</text>
</g>
<g id="card13">
<rect class="bx" x="131.2" y="1215" width="121" height="96.7"/>
<text class="num" x="137" y="1229">13</text>
<text class="ct" x="191.8" y="1249">n=150</text><text class="ct" x="191.8" y="1265">Extreme</text><text class="ct" x="191.8" y="1281">0.442&lt;=DD&lt;0.539</text><text class="ct" x="191.8" y="1296.5">0.447&lt;=EA</text>
</g>

<g id="r1p1">
<rect class="pn" x="271.7" y="761.7" width="168.3" height="98.3"/>
<use href="#pDD823" x="300.5" y="769" width="133.9" height="61"/>
<path class="ax" d="M291.7 769V830H434.5M289.7 769h2M289.7 830h2"/>
<text class="vl2" x="287.7" y="771">823</text><text class="vl2" x="287.7" y="832">0</text>
<text class="tk2" y="842.3"><tspan x="311.7">0.000</tspan><tspan x="358.3">0.442</tspan><tspan x="423.3">1.000</tspan></text>
<use href="#tri" class="mo" x="331.7" y="833"/><use href="#tri" class="mk" x="357.3" y="833"/>
<text class="tt2" x="363" y="853.5">Development Density</text>
</g>
<g id="r1p2">
<rect class="pn" x="457.3" y="763" width="167.7" height="95"/>
<use href="#pEA770" x="484.5" y="770" width="126" height="58.3"/>
<path class="ax" d="M474 770V828.3H610.5M472 770h2M472 828.3h2"/>
<text class="vl2" x="470" y="772">770</text><text class="vl2" x="470" y="830.3">0</text>
<text class="tk2" y="841.3"><tspan x="495">0.000</tspan><tspan x="541.7">0.432</tspan><tspan x="600">1.000</tspan></text>
<use href="#tri" class="mo" x="542.7" y="831.3"/>
<text class="tt2" x="550" y="852.3">Economical Activity</text>
</g>
<g id="r1p3">
<rect class="pn" x="642" y="768" width="169" height="85"/>
<use href="#pDD553" x="672.5" y="776" width="126" height="44"/>
<path class="ax" d="M662 776V820H798.5M660 776h2M660 820h2"/>
<text class="vl2" x="658" y="778">553</text><text class="vl2" x="658" y="822">0</text>
<text class="tk2" y="834"><tspan x="683">0.000</tspan><tspan x="713">0.296</tspan><tspan x="788">1.000</tspan></text>
<use href="#tri" class="mk" x="711" y="823"/><use href="#tri" class="mo" x="705" y="823"/>
<text class="tt2" x="735" y="846">Development Density</text>
</g>
<g id="legend-b">
<rect class="lg" x="876" y="778.3" width="83.3" height="69.4" rx="2"/>
<text class="lt" x="917.3" y="789.5">Flood Risk Inequality</text>
<rect class="sw y" x="893.3" y="794.8" width="16" height="5"/><text class="ll" x="911" y="799.7">Minor</text>
<rect class="sw m" x="893.3" y="804.8" width="16" height="5"/><text class="ll" x="911" y="809.7">Moderate</text>
<rect class="sw g" x="893.3" y="815.2" width="16" height="5"/><text class="ll" x="911" y="820.1">Major</text>
<rect class="sw t" x="893.3" y="825.5" width="16" height="5"/><text class="ll" x="911" y="830.4">Severe</text>
<rect class="sw o" x="893.3" y="835.8" width="16" height="5"/><text class="ll" x="911" y="840.7">Extreme</text>
</g>

<g id="r7p1">
<rect class="pn" x="275" y="876.7" width="170" height="97.3"/>
<use href="#pDD823" x="301.8" y="885.7" width="130.8" height="58.3"/>
<path class="ax" d="M292.3 885.7V944H432.6M290.3 885.7h2M290.3 944h2"/>
<text class="vl2" x="288.3" y="887.7">823</text><text class="vl2" x="288.3" y="946">0</text>
<text class="tk2" y="957"><tspan x="312.7">0.000</tspan><tspan x="361.7">0.442</tspan><tspan x="421.7">1.000</tspan></text>
<use href="#tri" class="mo" x="344" y="947"/><use href="#tri" class="mk" x="360.7" y="947"/>
<text class="tt2" x="367.3" y="968.7">Development Density</text>
</g>
<g id="r7p2">
<rect class="pn" x="461.7" y="876.7" width="170" height="95"/>
<use href="#pEA770" x="488" y="885.7" width="132" height="56"/>
<path class="ax" d="M480 885.7V941.7H620M478 885.7h2M478 941.7h2"/>
<text class="vl2" x="476" y="887.7">770</text><text class="vl2" x="476" y="943.7">0</text>
<text class="tk2" y="954.7"><tspan x="499">0.000</tspan><tspan x="546.7">0.432</tspan><tspan x="609.3">1.000</tspan></text>
<use href="#tri" class="mk" x="548.8" y="944.7"/><use href="#tri" class="mo" x="546.8" y="944.7"/>
<text class="tt2" x="554.3" y="966.3">Economical Activity</text>
</g>
<g id="r7p3">
<rect class="pn" x="648.3" y="894" width="170" height="65.3"/>
<use href="#pDD270" x="678.9" y="899.3" width="127.9" height="30"/>
<path class="ax" d="M667.6 899.3V929.3H806.9M665.6 899.3h2M665.6 929.3h2"/>
<text class="vl2" x="663.6" y="901.3">270</text><text class="vl2" x="663.6" y="931.3">0</text>
<text class="tk2" y="942.7"><tspan x="689.6">0.000</tspan><tspan x="719.5">0.305</tspan><tspan x="796.2">1.000</tspan></text>
<use href="#tri" class="mo" x="718" y="932.3"/><use href="#tri" class="mk" x="721.5" y="932.3"/>
<text class="tt2" x="741.4" y="953">Development Density</text>
</g>
<g id="r7p4">
<rect class="pn" x="836.4" y="895" width="170" height="61.7"/>
<use href="#pEA179" x="865.1" y="900.7" width="130.8" height="26"/>
<path class="ax" d="M854 900.7V926.7H995.9M852 900.7h2M852 926.7h2"/>
<text class="vl2" x="850" y="902.7">179</text><text class="vl2" x="850" y="928.7">0</text>
<text class="tk2" y="940.3"><tspan x="876">0.000</tspan><tspan x="940.6">0.588</tspan><tspan x="985">1.000</tspan></text>
<use href="#tri" class="mo" x="923.4" y="929.7"/><use href="#tri" class="mk" x="939.8" y="929.7"/>
<text class="tt2" x="929.6" y="951.3">Economical Activity</text>
</g>
<g id="r7p5">
<rect class="pn" x="1024.6" y="896.7" width="170" height="58.3"/>
<use href="#pDD149" x="1051" y="902.3" width="134.6" height="22.7"/>
<path class="ax" d="M1040.3 902.3V925H1185.6M1038.3 902.3h2M1038.3 925h2"/>
<text class="vl2" x="1036.3" y="904.3">149</text><text class="vl2" x="1036.3" y="927">0</text>
<text class="tk2" y="938"><tspan x="1062.2">0.000</tspan><tspan x="1088.5">0.252</tspan><tspan x="1174.4">1.000</tspan></text>
<use href="#tri" class="mk" x="1091.4" y="928"/><use href="#tri" class="mo" x="1094.5" y="928"/>
<text class="tt2" x="1117.8" y="949">Development Density</text>
</g>

<g id="r10p1">
<rect class="pn" x="275" y="991.7" width="170" height="100"/>
<use href="#pDD823" x="301.8" y="999" width="130.8" height="62"/>
<path class="ax" d="M292.3 999V1061H432.6M290.3 999h2M290.3 1061h2"/>
<text class="vl2" x="288.3" y="1001">823</text><text class="vl2" x="288.3" y="1063">0</text>
<text class="tk2" y="1073.7"><tspan x="312.7">0.000</tspan><tspan x="361.7">0.442</tspan><tspan x="421.7">1.000</tspan></text>
<use href="#tri" class="mo" x="354.3" y="1064"/><use href="#tri" class="mk" x="361.7" y="1064"/>
<text class="tt2" x="367.3" y="1085.3">Development Density</text>
</g>
<g id="r10p2">
<rect class="pn" x="461.7" y="991.7" width="170" height="98.3"/>
<use href="#pEA770" x="488" y="1000" width="132" height="58.3"/>
<path class="ax" d="M480 1000V1058.3H620M478 1000h2M478 1058.3h2"/>
<text class="vl2" x="476" y="1002">770</text><text class="vl2" x="476" y="1060.3">0</text>
<text class="tk2" y="1072"><tspan x="499">0.000</tspan><tspan x="546.7">0.432</tspan><tspan x="609.3">1.000</tspan></text>
<use href="#tri" class="mk" x="548.3" y="1061.3"/><use href="#tri" class="mo" x="555" y="1061.3"/>
<text class="tt2" x="554.3" y="1083">Economical Activity</text>
</g>
<g id="r10p3">
<rect class="pn" x="648.3" y="1006.7" width="170" height="67.3"/>
<use href="#pDD270" x="678.9" y="1014.3" width="127.9" height="30"/>
<path class="ax" d="M667.6 1014.3V1044.3H806.9M665.6 1014.3h2M665.6 1044.3h2"/>
<text class="vl2" x="663.6" y="1016.3">270</text><text class="vl2" x="663.6" y="1046.3">0</text>
<text class="tk2" y="1058"><tspan x="689.6">0.000</tspan><tspan x="721">0.305</tspan><tspan x="796.2">1.000</tspan></text>
<use href="#tri" class="mk" x="722.4" y="1047.3"/><use href="#tri" class="mo" x="730.5" y="1047.3"/>
<text class="tt2" x="743.3" y="1069.7">Development Density</text>
</g>
<g id="r10p4">
<rect class="pn" x="836.4" y="1008.3" width="170" height="66.7"/>
<use href="#pEA176" x="865.1" y="1015" width="130.8" height="29.3"/>
<path class="ax" d="M854 1015V1044.3H995.9M852 1015h2M852 1044.3h2"/>
<text class="vl2" x="850" y="1017">176</text><text class="vl2" x="850" y="1046.3">0</text>
<text class="tk2" y="1057.7"><tspan x="876">0.000</tspan><tspan x="933">0.526</tspan><tspan x="985">1.000</tspan></text>
<use href="#tri" class="mo" x="930.5" y="1047.3"/><use href="#tri" class="mk" x="934.3" y="1047.3"/>
<text class="tt2" x="931.4" y="1068.7">Economical Activity</text>
</g>
<g id="r10p5">
<rect class="pn" x="1024.6" y="1012.7" width="170" height="57.3"/>
<use href="#pCS89" x="1051.5" y="1020" width="128.4" height="20"/>
<path class="ax" d="M1039.2 1020V1040H1179.9M1037.2 1020h2M1037.2 1040h2"/>
<text class="vl2" x="1035.2" y="1022">89</text><text class="vl2" x="1035.2" y="1042">0</text>
<text class="tk2" y="1053.7"><tspan x="1062.2">0.000</tspan><tspan x="1087">0.249</tspan><tspan x="1169.2">1.000</tspan></text>
<use href="#tri" class="mk" x="1089.3" y="1043"/><use href="#tri" class="mo" x="1103.9" y="1043"/>
<text class="tt2" x="1115.9" y="1065.3">Centrality and Segregation</text>
</g>

<g id="r12p1">
<rect class="pn" x="271.2" y="1101.7" width="168.7" height="98.3"/>
<use href="#pDD823" x="297.6" y="1112.3" width="129.2" height="58.7"/>
<path class="ax" d="M290.5 1112.3V1171H426.9M288.5 1112.3h2M288.5 1171h2"/>
<text class="vl2" x="286.5" y="1114.3">823</text><text class="vl2" x="286.5" y="1173">0</text>
<text class="tk2" y="1183.7"><tspan x="308.4">0.000</tspan><tspan x="356.9">0.442</tspan><tspan x="416.1">1.000</tspan></text>
<use href="#tri" class="mk" x="356.9" y="1174"/><use href="#tri" class="mo" x="365.9" y="1174"/>
<text class="tt2" x="362.3" y="1195.3">Development Density</text>
</g>
<g id="r12p2">
<rect class="pn" x="458.7" y="1120.7" width="168.3" height="63.3"/>
<use href="#pDD284" x="483.8" y="1128.3" width="129.2" height="26.7"/>
<path class="ax" d="M478.9 1128.3V1155H618.5M476.9 1128.3h2M476.9 1155h2"/>
<text class="vl2" x="474.9" y="1130.3">284</text><text class="vl2" x="474.9" y="1157">0</text>
<text class="tk2" y="1168"><tspan x="494.6">0.000</tspan><tspan x="554">0.539</tspan><tspan x="602.3">1.000</tspan></text>
<use href="#tri" class="mo" x="552.5" y="1158"/><use href="#tri" class="mk" x="555" y="1158"/>
<text class="tt2" x="549.8" y="1179">Development Density</text>
</g>
<g id="r12p3">
<rect class="pn" x="644.9" y="1120" width="168.2" height="61.7"/>
<use href="#pEA129" x="674.1" y="1130.7" width="123.2" height="21"/>
<path class="ax" d="M664.2 1130.7V1151.7H802.5M662.2 1130.7h2M662.2 1151.7h2"/>
<text class="vl2" x="660.2" y="1132.7">129</text><text class="vl2" x="660.2" y="1153.7">0</text>
<text class="tk2" y="1164.7"><tspan x="684.4">0.000</tspan><tspan x="729.5">0.447</tspan><tspan x="787.1">1.000</tspan></text>
<use href="#tri" class="mo" x="726.5" y="1154.7"/><use href="#tri" class="mk" x="730" y="1154.7"/>
<text class="tt2" x="734" y="1175.3">Economical Activity</text>
</g>
<g id="r13p1">
<rect class="pn" x="271.2" y="1215" width="168.7" height="98"/>
<use href="#pDD823" x="297.6" y="1222.3" width="129.2" height="61"/>
<path class="ax" d="M290.5 1222.3V1283.3H426.9M288.5 1222.3h2M288.5 1283.3h2"/>
<text class="vl2" x="286.5" y="1224.3">823</text><text class="vl2" x="286.5" y="1285.3">0</text>
<text class="tk2" y="1295.5"><tspan x="308.4">0.000</tspan><tspan x="356.9">0.442</tspan><tspan x="416.1">1.000</tspan></text>
<use href="#tri" class="mk" x="356.9" y="1286.3"/><use href="#tri" class="mo" x="361.4" y="1286.3"/>
<text class="tt2" x="362.3" y="1307">Development Density</text>
</g>
<g id="r13p2">
<rect class="pn" x="458.7" y="1231.7" width="168.3" height="65"/>
<use href="#pDD284" x="483.8" y="1238.3" width="129.2" height="28.4"/>
<path class="ax" d="M478.9 1238.3V1266.7H618.5M476.9 1238.3h2M476.9 1266.7h2"/>
<text class="vl2" x="474.9" y="1240.3">284</text><text class="vl2" x="474.9" y="1268.7">0</text>
<text class="tk2" y="1279.7"><tspan x="494.6">0.000</tspan><tspan x="554.3">0.539</tspan><tspan x="602.3">1.000</tspan></text>
<use href="#tri" class="mo" x="548.4" y="1269.7"/><use href="#tri" class="mk" x="554.3" y="1269.7"/>
<text class="tt2" x="549.8" y="1290.7">Development Density</text>
</g>
<g id="r13p3">
<rect class="pn" x="644.9" y="1231.7" width="168.2" height="62.3"/>
<use href="#pEA129" x="674.1" y="1241.7" width="123.2" height="21.6"/>
<path class="ax" d="M664.2 1241.7V1263.3H802.5M662.2 1241.7h2M662.2 1263.3h2"/>
<text class="vl2" x="660.2" y="1243.7">129</text><text class="vl2" x="660.2" y="1265.3">0</text>
<text class="tk2" y="1276.3"><tspan x="684.4">0.000</tspan><tspan x="729.5">0.447</tspan><tspan x="787.1">1.000</tspan></text>
<use href="#tri" class="mk" x="729.5" y="1266.3"/><use href="#tri" class="mo" x="743" y="1266.3"/>
<text class="tt2" x="734" y="1287.3">Economical Activity</text>
</g>
</svg>
